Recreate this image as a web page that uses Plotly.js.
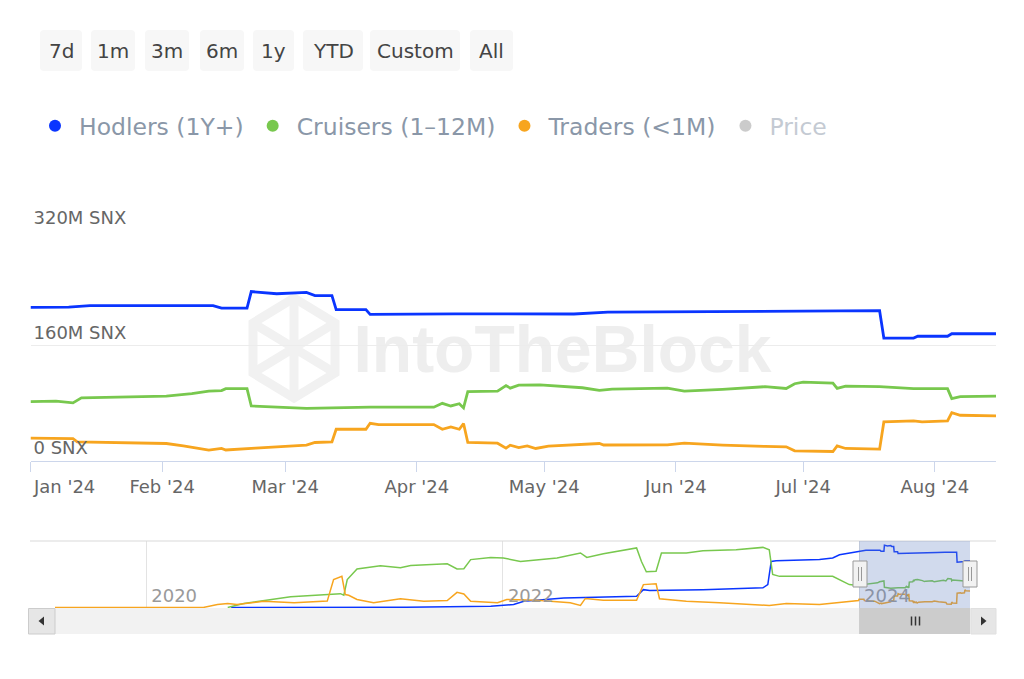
<!DOCTYPE html>
<html>
<head>
<meta charset="utf-8">
<script src="https://cdn.plot.ly/plotly-3.0.1.min.js"></script>
<style>
  html, body { margin: 0; padding: 0; background: #fff; }
  #chart { width: 1024px; height: 679px; }
</style>
</head>
<body>
<div id="chart"></div>
<script>
// ---------- DATA (values in millions of SNX) ----------
// Main view, 2024 (breakpoints)
const hodlersDates = ['2024-01-01','2024-01-10','2024-01-15','2024-02-13','2024-02-15','2024-02-21','2024-02-22','2024-02-28','2024-03-06','2024-03-08','2024-03-12','2024-03-13','2024-03-20','2024-03-21','2024-04-10','2024-04-25','2024-05-08','2024-05-16','2024-06-09','2024-06-25','2024-07-19','2024-07-20','2024-07-27','2024-07-28','2024-08-04','2024-08-05','2024-08-16'];
const hodlersValues = [212.5,213,215,215,211.5,211.5,234.5,231.5,233.3,229,229,209.5,209.5,202.8,203.5,204,203.4,206,207,208,208,170,170,172.5,172.5,176,176];

const cruisersDates = ['2024-01-01','2024-01-07','2024-01-11','2024-01-13','2024-02-02','2024-02-08','2024-02-12','2024-02-15','2024-02-16','2024-02-21','2024-02-22','2024-03-06','2024-03-21','2024-04-05','2024-04-07','2024-04-09','2024-04-11','2024-04-12','2024-04-13','2024-04-20','2024-04-22','2024-04-23','2024-04-25','2024-04-30','2024-05-10','2024-05-14','2024-05-17','2024-05-30','2024-06-03','2024-06-12','2024-06-22','2024-06-27','2024-06-29','2024-07-01','2024-07-08','2024-07-09','2024-07-11','2024-07-19','2024-07-27','2024-08-04','2024-08-05','2024-08-07','2024-08-16'];
const cruisersValues = [81.7,82.5,80,87,89.5,92.8,96.4,97,99.7,99.7,75.7,72.5,74,74,79.4,75.7,78.8,73,95.5,96.4,104,100.5,104.7,105,101,97.4,99,100.5,96.4,98.7,102.5,100,106.6,108.8,107.5,100,103.3,102.5,99.7,99.7,85.9,88.6,89.5];

const tradersDates = ['2024-01-01','2024-01-11','2024-01-12','2024-01-23','2024-02-02','2024-02-06','2024-02-12','2024-02-15','2024-02-16','2024-02-23','2024-02-26','2024-03-06','2024-03-08','2024-03-12','2024-03-13','2024-03-20','2024-03-21','2024-03-23','2024-04-05','2024-04-07','2024-04-09','2024-04-11','2024-04-12','2024-04-13','2024-04-20','2024-04-22','2024-04-23','2024-04-25','2024-04-27','2024-04-29','2024-05-02','2024-05-14','2024-05-15','2024-05-30','2024-06-03','2024-06-12','2024-06-22','2024-06-27','2024-06-29','2024-07-08','2024-07-09','2024-07-11','2024-07-19','2024-07-20','2024-07-27','2024-07-29','2024-08-04','2024-08-05','2024-08-07','2024-08-16'];
const tradersValues = [31,30.5,25.9,24.5,23.6,20.3,14.4,16.7,14.6,17.2,18.1,21.3,25,25.9,43.4,43.4,51.7,49.9,49.9,43.4,46.6,43.4,51.3,25,24,17.2,21.3,18,20.3,16.7,20,23.6,21.5,21.7,24,21.3,19.5,19,13.4,12.5,20.3,16.7,15.8,53.5,55,53.5,55,66.5,62.8,61.8];

// Navigator history before 2024
const hodlersHistDates = ['2020-06-23','2021-06-18','2021-12-07','2022-01-02','2022-01-23','2022-02-13','2022-04-15','2022-05-06','2022-10-02','2022-10-16','2022-10-29','2023-02-15','2023-06-18','2023-06-28','2023-07-05','2023-07-15','2023-10-12','2023-11-08','2023-11-22','2023-12-31'];
const hodlersHistValues = [0,1,5,8.6,11,23.6,34,36,42,67,64,67,74,86,173,176,180,186,198,211];

const cruisersHistDates = ['2020-06-16','2020-07-19','2020-10-23','2020-12-31','2021-02-02','2021-02-09','2021-02-16','2021-03-08','2021-04-25','2021-06-05','2021-06-26','2021-09-09','2021-09-29','2021-10-13','2021-10-27','2021-12-07','2021-12-21','2022-01-02','2022-02-06','2022-03-26','2022-04-22','2022-06-09','2022-06-22','2022-07-26','2022-08-29','2022-10-02','2022-10-12','2022-10-22','2022-11-11','2022-11-22','2023-01-12','2023-02-15','2023-04-24','2023-06-18','2023-07-01','2023-07-08','2023-07-22','2023-11-08','2023-12-12'];
const cruisersHistValues = [0,15,40,48.7,52,46,105,145,157,149,158,164,145,146,180,188,186,186,173,180,186,205,188,202,213,224,173,134,136,205,205,213,217,226,217,124,117,117,86];

const tradersHistDates = ['2019-06-28','2020-04-27','2020-05-26','2020-06-16','2020-07-05','2020-08-29','2020-10-30','2020-12-31','2021-01-06','2021-01-19','2021-02-05','2021-02-12','2021-02-19','2021-03-08','2021-04-11','2021-06-05','2021-07-23','2021-09-09','2021-09-29','2021-10-13','2021-10-27','2021-12-21','2022-01-09','2022-03-12','2022-05-19','2022-06-09','2022-06-19','2022-07-26','2022-10-02','2022-10-16','2022-11-11','2022-11-18','2023-01-12','2023-03-21','2023-07-01','2023-08-05','2023-10-12','2023-12-31'];
const tradersHistValues = [0,0,11,15,11,23.6,17.5,23.6,24,105,117,48.7,46,30,17.5,32.6,23.6,26,57,51,23.6,17.5,30,27,17.5,7.5,34,27,27,86,89,33,23.6,17.5,7.5,15,11,26];

const seriesNames = ['Hodlers (1Y+)','Cruisers (1\u201312M)','Traders (<1M)','Price'];
const seriesColors = ['#0a35ff','#78c84e','#f7a51f','#999999'];

const yTickVals = [0,160,320];
const yTickText = ['0 SNX','160M SNX','320M SNX'];
const xTickVals = ['2024-01-01','2024-02-01','2024-03-01','2024-04-01','2024-05-01','2024-06-01','2024-07-01','2024-08-01'];
const xTickText = ["Jan '24","Feb '24","Mar '24","Apr '24","May '24","Jun '24","Jul '24","Aug '24"];
const navTickVals = ['2020-01-01','2022-01-01','2024-01-01'];
const navTickText = ['2020','2022','2024'];
const buttonLabels = ['7d','1m','3m','6m','1y','YTD','Custom','All'];

const mainRange = ['2024-01-01','2024-08-15 10:00'];
const navRange = ['2019-06-28','2024-08-15 10:00'];

// ---------- LAYOUT HELPERS (pixel -> paper) ----------
const W = 1024, H = 679;
const X = p => p / W;
const Y = p => 1 - p / H;
const FONT = 'DejaVu Sans';

function roundRect(x0, y0, x1, y1, r) {
  const rx = r / W, ry = r / H;
  const a = X(x0), b = X(x1), t = Y(y0), u = Y(y1);
  return `M${a+rx},${t} L${b-rx},${t} Q${b},${t} ${b},${t-ry} L${b},${u+ry} Q${b},${u} ${b-rx},${u} L${a+rx},${u} Q${a},${u} ${a},${u+ry} L${a},${t-ry} Q${a},${t} ${a+rx},${t} Z`;
}
function polyPath(pts, close) {
  return pts.map((p, i) => (i ? 'L' : 'M') + X(p[0]) + ',' + Y(p[1])).join(' ') + (close ? ' Z' : '');
}

// ---------- TRACES ----------
const mainDates = [hodlersDates, cruisersDates, tradersDates];
const mainVals = [hodlersValues, cruisersValues, tradersValues];
const histDates = [hodlersHistDates, cruisersHistDates, tradersHistDates];
const histVals = [hodlersHistValues, cruisersHistValues, tradersHistValues];

const traces = [];
for (let i = 0; i < 3; i++) {
  traces.push({
    type: 'scatter', mode: 'lines', x: mainDates[i], y: mainVals[i],
    xaxis: 'x', yaxis: 'y', showlegend: false, hoverinfo: 'skip',
    line: { color: seriesColors[i], width: 2.8 }
  });
}
for (let i = 0; i < 3; i++) {
  traces.push({
    type: 'scatter', mode: 'lines',
    x: histDates[i].concat(mainDates[i]), y: histVals[i].concat(mainVals[i]),
    xaxis: 'x2', yaxis: 'y2', showlegend: false, hoverinfo: 'skip',
    line: { color: seriesColors[i], width: 1.5 }
  });
}
// legend entries (dots)
for (let i = 0; i < 4; i++) {
  traces.push({
    type: 'scatter', mode: 'markers', x: [null], y: [null], xaxis: 'x', yaxis: 'y',
    name: seriesNames[i], marker: { color: seriesColors[i], size: 12 },
    visible: i === 3 ? 'legendonly' : true, showlegend: true
  });
}

// ---------- SHAPES & ANNOTATIONS ----------
const shapes = [];
const annotations = [];

// range selector buttons
const btnX = [[40,82],[91,135],[145,189],[200,244],[253,294],[303,363],[370,460],[470,513]];
buttonLabels.forEach((lab, i) => {
  const [a, b] = btnX[i];
  shapes.push({ type: 'path', xref: 'paper', yref: 'paper', path: roundRect(a, 30, b, 71, 4),
    fillcolor: '#f7f7f7', line: { width: 0 } });
  annotations.push({ xref: 'paper', yref: 'paper', x: X((a + b) / 2), y: Y(51), xanchor: 'center', yanchor: 'middle',
    text: lab, showarrow: false, font: { family: FONT, size: 20, color: '#444444' } });
});

// first month label is kept inside the plot (left-aligned at its tick)
annotations.push({ xref: 'x', yref: 'paper', x: xTickVals[0], y: Y(486), xanchor: 'left', yanchor: 'middle',
  xshift: 0, text: xTickText[0], showarrow: false, font: { family: FONT, size: 18, color: '#666666' } });

// watermark logo (hexagon cube) + text
const cx = 294, cy = 348, hw = 41, hh = 50;
shapes.push({ type: 'path', xref: 'paper', yref: 'paper', layer: 'below',
  path: polyPath([[cx, cy-hh],[cx+hw, cy-hh/2],[cx+hw, cy+hh/2],[cx, cy+hh],[cx-hw, cy+hh/2],[cx-hw, cy-hh/2]], true),
  line: { color: '#f1f1f1', width: 9 }, fillcolor: 'rgba(0,0,0,0)' });
shapes.push({ type: 'path', xref: 'paper', yref: 'paper', layer: 'below',
  path: polyPath([[cx-hw, cy-hh/2],[cx+hw, cy+hh/2]], false) + ' ' + polyPath([[cx+hw, cy-hh/2],[cx-hw, cy+hh/2]], false) + ' ' + polyPath([[cx, cy-hh],[cx, cy+hh]], false),
  line: { color: '#f1f1f1', width: 9 } });
shapes.push({ type: 'rect', xref: 'paper', yref: 'paper', layer: 'below',
  x0: X(350), x1: X(775), y0: Y(380), y1: Y(305), line: { width: 0 }, fillcolor: 'rgba(0,0,0,0)',
  label: { text: 'IntoTheBlock', textposition: 'middle center',
    font: { family: 'Liberation Sans', size: 66, color: '#eeeeee', weight: 'bold' } } });

// navigator top border
shapes.push({ type: 'line', xref: 'paper', yref: 'paper', x0: X(30), x1: X(996), y0: Y(541), y1: Y(541),
  line: { color: '#d9d9d9', width: 1 } });

// navigator selection mask
shapes.push({ type: 'rect', xref: 'x2', yref: 'paper', layer: 'above',
  x0: mainRange[0], x1: mainRange[1], y0: Y(608), y1: Y(541),
  fillcolor: 'rgba(102,133,194,0.3)', line: { width: 0 } });

// scrollbar
shapes.push({ type: 'rect', xref: 'paper', yref: 'paper', x0: X(55), x1: X(971), y0: Y(634), y1: Y(608),
  fillcolor: '#f2f2f2', line: { width: 0 } });
shapes.push({ type: 'rect', xref: 'x2', yref: 'paper', x0: mainRange[0], x1: mainRange[1], y0: Y(634), y1: Y(608),
  fillcolor: '#cccccc', line: { width: 0 } });
shapes.push({ type: 'rect', xref: 'paper', yref: 'paper', x0: X(28.5), x1: X(55), y0: Y(634), y1: Y(608.5),
  fillcolor: '#e6e6e6', line: { color: '#cccccc', width: 1 } });
shapes.push({ type: 'rect', xref: 'paper', yref: 'paper', x0: X(971), x1: X(996), y0: Y(634), y1: Y(608.5),
  fillcolor: '#e6e6e6', line: { color: '#e0e0e0', width: 1 } });
shapes.push({ type: 'path', xref: 'paper', yref: 'paper', path: polyPath([[38.5,621],[44,616.5],[44,625.5]], true),
  fillcolor: '#333333', line: { width: 0 } });
shapes.push({ type: 'path', xref: 'paper', yref: 'paper', path: polyPath([[986.5,621],[981,616.5],[981,625.5]], true),
  fillcolor: '#333333', line: { width: 0 } });
[-4, 0, 4].forEach(d => {
  shapes.push({ type: 'line', xref: 'paper', yref: 'paper', x0: X(915.5 + d), x1: X(915.5 + d), y0: Y(616.5), y1: Y(625.5),
    line: { color: '#333333', width: 1.5 } });
});

// navigator handles (drawn in paper space so they are not clipped at the plot edge)
[860, 970].forEach(hx => {
  shapes.push({ type: 'rect', xref: 'paper', yref: 'paper', x0: X(hx - 7), x1: X(hx + 7),
    y0: Y(587), y1: Y(561), fillcolor: '#f2f2f2', line: { color: '#999999', width: 1 }, layer: 'above' });
  [-1.5, 1.5].forEach(d => {
    shapes.push({ type: 'line', xref: 'paper', yref: 'paper', x0: X(hx + d), x1: X(hx + d),
      y0: Y(581), y1: Y(567), line: { color: '#999999', width: 1 }, layer: 'above' });
  });
});

// ---------- LAYOUT ----------
const layout = {
  width: W, height: H,
  margin: { l: 0, r: 0, t: 0, b: 0, autoexpand: false },
  paper_bgcolor: '#ffffff', plot_bgcolor: 'rgba(0,0,0,0)',
  font: { family: FONT, color: '#666666' },
  showlegend: true,
  legend: {
    orientation: 'h', x: X(31), xanchor: 'left', y: Y(126), yanchor: 'middle',
    font: { family: FONT, size: 23.5, color: '#8a97a8' }, itemwidth: 38,
    bgcolor: 'rgba(0,0,0,0)', borderwidth: 0, traceorder: 'normal'
  },
  xaxis: {
    type: 'date', domain: [X(30.5), X(996)], range: mainRange, anchor: 'y',
    tickvals: xTickVals,
    ticktext: xTickText.map((t, i) => i === 0 ? '' : t),
    tickfont: { family: FONT, size: 18, color: '#666666' },
    showgrid: false, zeroline: false, showline: true, linecolor: '#ccd6eb', linewidth: 1,
    ticks: 'outside', ticklen: 10, tickcolor: '#ccd6eb', tickwidth: 1, fixedrange: true
  },
  yaxis: {
    domain: [Y(460.5), Y(230)], range: [0, 320], anchor: 'x',
    tickvals: yTickVals, ticktext: yTickText,
    ticklabelposition: 'inside top', ticklabeloverflow: 'allow',
    tickfont: { family: FONT, size: 18, color: '#666666' },
    showgrid: true, gridcolor: '#ececec', gridwidth: 1, zeroline: false, showline: false,
    ticks: '', fixedrange: true
  },
  xaxis2: {
    type: 'date', domain: [X(55), X(970)], range: navRange, anchor: 'y2',
    tickvals: navTickVals, ticktext: navTickText,
    ticklabelposition: 'inside right', ticklabeloverflow: 'allow',
    ticklabelshift: 5, ticklabelstandoff: -4,
    tickfont: { family: FONT, size: 18, color: '#9a9a9a' },
    showgrid: true, gridcolor: '#e3e3e3', gridwidth: 1, zeroline: false, showline: false,
    ticks: '', fixedrange: true
  },
  yaxis2: {
    domain: [Y(608), Y(541)], range: [-2, 250], anchor: 'x2',
    showgrid: false, zeroline: false, showticklabels: false, showline: false, ticks: '', fixedrange: true
  },
  shapes: shapes,
  annotations: annotations
};

Plotly.newPlot('chart', traces, layout, { displayModeBar: false, responsive: false });
</script>
</body>
</html>
